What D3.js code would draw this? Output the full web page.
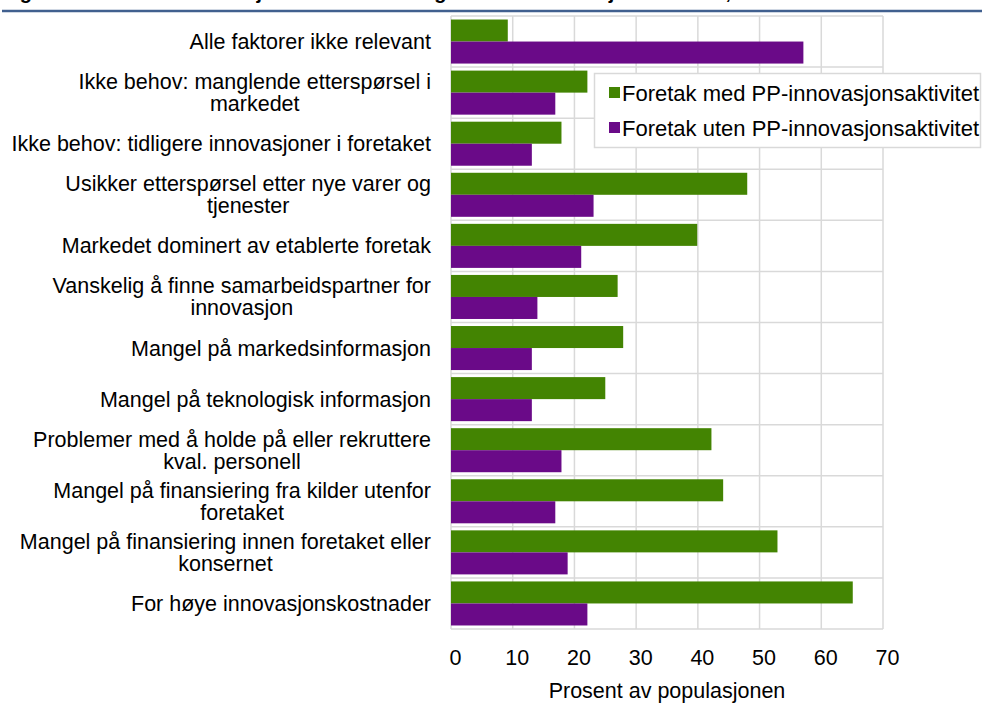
<!DOCTYPE html>
<html>
<head>
<meta charset="utf-8">
<script src="https://cdn.jsdelivr.net/npm/d3@7"></script>
<style>
  body { margin: 0; background: #fff; }
  svg { display: block; font-family: "Liberation Sans", Arial, sans-serif; }
</style>
</head>
<body>
<div id="chart"></div>
<script>
// categories, top to bottom ("\n" = line break in the label)
const categories = [
  "Alle faktorer ikke relevant",
  "Ikke behov: manglende etterspørsel i\nmarkedet",
  "Ikke behov: tidligere innovasjoner i foretaket",
  "Usikker etterspørsel etter nye varer og\ntjenester",
  "Markedet dominert av etablerte foretak",
  "Vanskelig å finne samarbeidspartner for\ninnovasjon",
  "Mangel på markedsinformasjon",
  "Mangel på teknologisk informasjon",
  "Problemer med å holde på eller rekruttere\nkval. personell",
  "Mangel på finansiering fra kilder utenfor\nforetaket",
  "Mangel på finansiering innen foretaket eller\nkonsernet",
  "For høye innovasjonskostnader"
];
const seriesNames = ["Foretak med PP-innovasjonsaktivitet", "Foretak uten PP-innovasjonsaktivitet"];
const medPP = [9.2, 22.1, 17.9, 48.0, 39.9, 27.0, 27.9, 25.0, 42.2, 44.1, 52.9, 65.1];
const utenPP = [57.1, 16.9, 13.1, 23.1, 21.1, 14.0, 13.1, 13.1, 17.9, 16.9, 18.9, 22.1];
const xTicks = [0, 10, 20, 30, 40, 50, 60, 70];
const xTitle = "Prosent av populasjonen";
const title = "Figur 7. Hindre for innovasjon i foretak med og uten PP-innovasjonsaktivitet, 2016-2018";

const colors = ["#438402", "#6a0a88"];

const W = 982, H = 705;
const plot = { left: 451, right: 883, top: 16, bottom: 629 };
const fs = "21.5px";

const svg = d3.select("#chart").append("svg")
  .attr("width", W)
  .attr("height", H);

// title (cut off at the top edge, as in the source) and rule line
svg.append("text")
  .attr("x", 2)
  .attr("y", -1)
  .style("font-size", "20px")
  .style("font-weight", "bold")
  .text(title);
svg.append("line")
  .attr("x1", 2).attr("x2", W)
  .attr("y1", 11).attr("y2", 11)
  .attr("stroke", "#41608f")
  .attr("stroke-width", 2.5);

const x = d3.scaleLinear()
  .domain([0, 70])
  .range([plot.left, plot.right]);

const y = d3.scaleBand()
  .domain(categories)
  .range([plot.top, plot.bottom])
  .padding(0);

const y1 = d3.scaleBand()
  .domain([0, 1])
  .range([0, y.bandwidth()])
  .paddingInner(0)
  .paddingOuter(0.16);

// grid
const grid = svg.append("g").attr("stroke", "#d9d9d9").attr("stroke-width", 1.5);
grid.selectAll("line.v")
  .data(xTicks)
  .join("line")
  .attr("class", "v")
  .attr("x1", d => x(d)).attr("x2", d => x(d))
  .attr("y1", plot.top).attr("y2", plot.bottom);
grid.selectAll("line.h")
  .data(categories.concat(["__end"]))
  .join("line")
  .attr("class", "h")
  .attr("x1", plot.left).attr("x2", plot.right)
  .attr("y1", (d, i) => i < categories.length ? y(d) : plot.bottom)
  .attr("y2", (d, i) => i < categories.length ? y(d) : plot.bottom);

// bars
const rows = categories.map((c, i) => ({ cat: c, vals: [medPP[i], utenPP[i]] }));
const groups = svg.append("g")
  .selectAll("g")
  .data(rows)
  .join("g")
  .attr("transform", d => `translate(0,${y(d.cat)})`);

groups.selectAll("rect")
  .data(d => d.vals.map((v, s) => ({ v, s })))
  .join("rect")
  .attr("x", x(0))
  .attr("y", d => y1(d.s))
  .attr("width", d => x(d.v) - x(0))
  .attr("height", y1.bandwidth())
  .attr("fill", d => colors[d.s]);

// category labels: block right-aligned, lines centred inside the block
const labelRight = 431;
const lineH = 22;
const labels = svg.append("g")
  .style("font-size", fs)
  .attr("fill", "#000");

categories.forEach(c => {
  const lines = c.split("\n");
  const cy = y(c) + y.bandwidth() / 2;
  const t = labels.append("text");
  const spans = lines.map((ln, i) => t.append("tspan")
    .attr("y", cy - (lines.length - 1) * lineH / 2 + i * lineH)
    .attr("dy", "0.35em")
    .text(ln));
  const widths = spans.map(s => s.node().getComputedTextLength());
  const maxW = d3.max(widths);
  const centre = labelRight - maxW / 2;
  spans.forEach(s => s.attr("x", centre).attr("text-anchor", "middle"));
});

// x axis
const xAxis = svg.append("g")
  .attr("transform", `translate(0,${plot.bottom})`)
  .call(d3.axisBottom(x).tickValues(xTicks).tickSize(0).tickPadding(21));
xAxis.select(".domain").remove();
xAxis.selectAll("text")
  .style("font-size", fs)
  .style("font-family", "Liberation Sans, Arial, sans-serif")
  .attr("fill", "#000")
  .attr("dx", 4);

svg.append("text")
  .attr("x", (plot.left + plot.right) / 2)
  .attr("y", 698)
  .attr("text-anchor", "middle")
  .style("font-size", fs)
  .text(xTitle);

// legend
const legend = svg.append("g");
legend.append("rect")
  .attr("x", 594.5).attr("y", 73.5)
  .attr("width", 386).attr("height", 74)
  .attr("fill", "#fff")
  .attr("stroke", "#d9d9d9")
  .attr("stroke-width", 1.5);

const items = legend.selectAll("g")
  .data(seriesNames)
  .join("g")
  .attr("transform", (d, i) => `translate(609,${93 + i * 35})`);
items.append("rect")
  .attr("x", 0).attr("y", -6)
  .attr("width", 11).attr("height", 11)
  .attr("fill", (d, i) => colors[i]);
items.append("text")
  .attr("x", 13)
  .attr("y", 0)
  .attr("dy", "0.35em")
  .style("font-size", "22px")
  .text(d => d);
</script>
</body>
</html>
